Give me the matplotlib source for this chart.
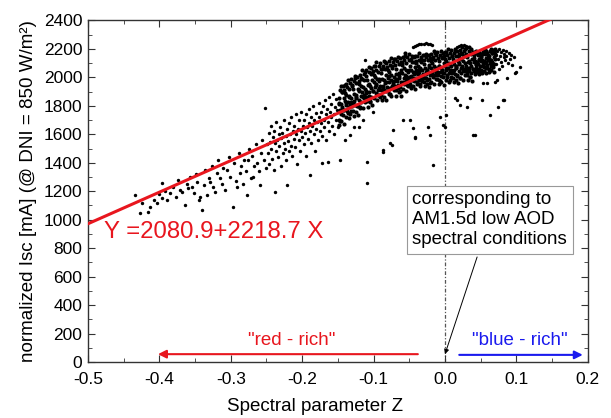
import matplotlib
matplotlib.use("Agg")
import matplotlib.pyplot as plt
from matplotlib.ticker import MultipleLocator, FormatStrFormatter

plt.rcParams["font.family"] = ["Liberation Sans", "DejaVu Sans"]

# sparse lower-left tail of the cloud (x, y)
tail_pts = [
    (-0.434, 1174), (-0.427, 1048), (-0.424, 1120), (-0.416, 1052), (-0.413, 1090),
    (-0.408, 1140), (-0.403, 1118), (-0.400, 1180), (-0.396, 1153), (-0.396, 1259),
    (-0.392, 1205), (-0.389, 1139), (-0.385, 1188), (-0.381, 1230), (-0.377, 1160),
    (-0.374, 1280), (-0.371, 1209), (-0.368, 1195), (-0.364, 1104), (-0.362, 1250),
    (-0.360, 1225), (-0.357, 1301), (-0.354, 1231), (-0.352, 1188), (-0.349, 1320),
    (-0.347, 1266), (-0.345, 1139), (-0.343, 1160), (-0.340, 1069), (-0.338, 1245),
    (-0.336, 1350), (-0.333, 1174), (-0.331, 1290), (-0.329, 1266), (-0.327, 1380),
    (-0.325, 1231), (-0.322, 1195), (-0.320, 1330), (-0.318, 1420), (-0.315, 1294),
    (-0.313, 1250), (-0.311, 1360), (-0.308, 1210), (-0.305, 1350), (-0.303, 1440),
    (-0.301, 1300), (-0.297, 1090), (-0.295, 1395), (-0.293, 1270), (-0.291, 1231),
    (-0.289, 1470), (-0.287, 1329), (-0.285, 1380), (-0.283, 1250), (-0.281, 1420),
    (-0.279, 1340), (-0.277, 1174), (-0.276, 1420), (-0.274, 1500), (-0.272, 1290),
    (-0.270, 1450), (-0.269, 1301), (-0.267, 1380), (-0.265, 1530), (-0.263, 1399),
    (-0.261, 1340), (-0.259, 1245), (-0.258, 1470), (-0.256, 1560), (-0.254, 1420),
    (-0.252, 1786), (-0.251, 1360),
]

# middle part of the cloud (x, y)
mid_pts = [
    (-0.249, 1529), (-0.248, 1470), (-0.247, 1610), (-0.246, 1390), (-0.245, 1545),
    (-0.244, 1660), (-0.243, 1500), (-0.242, 1430), (-0.241, 1580), (-0.240, 1620),
    (-0.239, 1350), (-0.238, 1195), (-0.238, 1540), (-0.237, 1480), (-0.236, 1690),
    (-0.235, 1560), (-0.234, 1440), (-0.233, 1600), (-0.232, 1520), (-0.231, 1650),
    (-0.230, 1380), (-0.229, 1575), (-0.228, 1610), (-0.227, 1470), (-0.226, 1540),
    (-0.225, 1700), (-0.224, 1500), (-0.223, 1420), (-0.222, 1590), (-0.221, 1245),
    (-0.221, 1640), (-0.220, 1555), (-0.219, 1480), (-0.218, 1680), (-0.217, 1600),
    (-0.216, 1520), (-0.215, 1720), (-0.214, 1450), (-0.213, 1620), (-0.212, 1570),
    (-0.211, 1660), (-0.210, 1510), (-0.209, 1740), (-0.208, 1600), (-0.207, 1390),
    (-0.206, 1640), (-0.205, 1560), (-0.204, 1700), (-0.203, 1480), (-0.202, 1620),
    (-0.201, 1760), (-0.200, 1580), (-0.199, 1660), (-0.198, 1530), (-0.197, 1700),
    (-0.196, 1610), (-0.195, 1450), (-0.194, 1740), (-0.193, 1650), (-0.192, 1570),
    (-0.191, 1780), (-0.190, 1680), (-0.189, 1315), (-0.189, 1620), (-0.188, 1720),
    (-0.187, 1540), (-0.186, 1660), (-0.185, 1800), (-0.184, 1600), (-0.183, 1700),
    (-0.182, 1480), (-0.181, 1750), (-0.180, 1640), (-0.179, 1690), (-0.178, 1560),
    (-0.177, 1820), (-0.176, 1720), (-0.175, 1620), (-0.174, 1760), (-0.173, 1680),
    (-0.172, 1399), (-0.172, 1590), (-0.171, 1800), (-0.170, 1700), (-0.169, 1650),
    (-0.168, 1840), (-0.167, 1740), (-0.166, 1560), (-0.165, 1780), (-0.164, 1406),
    (-0.164, 1690), (-0.163, 1860), (-0.162, 1620), (-0.161, 1760), (-0.160, 1720),
    (-0.159, 1810), (-0.158, 1660), (-0.157, 1880), (-0.156, 1740), (-0.155, 1600),
    (-0.154, 1790), (-0.153, 1700), (-0.152, 1850), (-0.151, 1770), (-0.150, 1650),
]

# dense core: two readings per x column (x, y1, y2)
core_cols = [
    (-0.149, 1853, 1703), (-0.148, 1816, 1666), (-0.147, 1909, 1769), (-0.146, 1943, 1743),
    (-0.145, 1811, 1696), (-0.144, 1894, 1794), (-0.143, 1937, 1737), (-0.142, 1855, 1675),
    (-0.141, 1914, 1774), (-0.140, 1837, 1892), (-0.139, 1725, 1955), (-0.138, 1808, 1878),
    (-0.137, 1766, 1931), (-0.136, 1985, 1830), (-0.135, 1718, 1868), (-0.134, 1916, 1791),
    (-0.133, 1809, 1959), (-0.132, 1857, 1762), (-0.131, 1986, 1826), (-0.130, 1799, 1944),
    (-0.129, 1917, 1767), (-0.128, 1880, 1730), (-0.127, 1973, 1833), (-0.126, 2007, 1807),
    (-0.125, 1875, 1760), (-0.124, 1958, 1858), (-0.123, 2001, 1801), (-0.122, 1919, 1739),
    (-0.121, 1978, 1838), (-0.120, 1901, 1956), (-0.119, 1789, 2019), (-0.118, 1872, 1942),
    (-0.117, 1830, 1995), (-0.116, 2049, 1894), (-0.115, 1782, 1932), (-0.114, 1980, 1855),
    (-0.113, 1873, 2023), (-0.112, 1921, 1826), (-0.111, 2050, 1890), (-0.110, 1863, 2008),
    (-0.109, 1981, 1831), (-0.108, 1944, 1794), (-0.107, 2037, 1897), (-0.106, 2071, 1871),
    (-0.105, 1939, 1824), (-0.104, 2022, 1922), (-0.103, 2065, 1865), (-0.102, 1983, 1803),
    (-0.101, 2042, 1902), (-0.100, 1965, 2020), (-0.099, 1852, 2082), (-0.098, 1934, 2004),
    (-0.097, 1890, 2055), (-0.096, 2107, 1952), (-0.095, 1838, 1988), (-0.094, 2035, 1910),
    (-0.093, 1927, 2077), (-0.092, 1973, 1878), (-0.091, 2100, 1940), (-0.090, 1911, 2056),
    (-0.089, 2028, 1878), (-0.088, 1990, 1840), (-0.087, 2081, 1941), (-0.086, 2113, 1913),
    (-0.085, 1979, 1864), (-0.084, 2061, 1961), (-0.083, 2103, 1903), (-0.082, 2019, 1839),
    (-0.081, 2076, 1936), (-0.080, 1997, 2052), (-0.079, 1884, 2114), (-0.078, 1966, 2036),
    (-0.077, 1922, 2087), (-0.076, 2139, 1984), (-0.075, 1870, 2020), (-0.074, 2067, 1942),
    (-0.073, 1959, 2109), (-0.072, 2005, 1910), (-0.071, 2132, 1972), (-0.070, 1943, 2088),
    (-0.069, 2060, 1910), (-0.068, 2022, 1872), (-0.067, 2113, 1973), (-0.066, 2145, 1945),
    (-0.065, 2011, 1896), (-0.064, 2093, 1993), (-0.063, 2135, 1935), (-0.062, 2051, 1871),
    (-0.061, 2108, 1968), (-0.060, 2029, 2084), (-0.059, 1916, 2146), (-0.058, 1998, 2068),
    (-0.057, 1954, 2119), (-0.056, 2171, 2016), (-0.055, 1902, 2052), (-0.054, 2099, 1974),
    (-0.053, 1991, 2141), (-0.052, 2037, 1942), (-0.051, 2164, 2004), (-0.050, 1975, 2120),
    (-0.049, 2082, 1954), (-0.048, 2049, 1922), (-0.047, 2127, 2007), (-0.046, 2152, 1982),
    (-0.045, 2038, 1940), (-0.044, 2107, 2022), (-0.043, 2142, 1972), (-0.042, 2070, 1917),
    (-0.041, 2118, 1999), (-0.040, 2051, 2098), (-0.039, 1954, 2149), (-0.038, 2022, 2082),
    (-0.037, 1985, 2125), (-0.036, 2169, 2037), (-0.035, 1940, 2068), (-0.034, 2106, 1999),
    (-0.033, 2013, 2141), (-0.032, 2053, 1972), (-0.031, 2160, 2024), (-0.030, 1998, 2122),
    (-0.029, 2097, 1969), (-0.028, 2064, 1937), (-0.027, 2142, 2022), (-0.026, 2167, 1997),
    (-0.025, 2053, 1955), (-0.024, 2122, 2037), (-0.023, 2157, 1987), (-0.022, 2086, 1933),
    (-0.021, 2133, 2014), (-0.020, 2066, 2113), (-0.019, 1969, 2164), (-0.018, 2038, 2098),
    (-0.017, 2000, 2140), (-0.016, 2184, 2052), (-0.015, 1955, 2083), (-0.014, 2122, 2015),
    (-0.013, 2028, 2156), (-0.012, 2068, 1987), (-0.011, 2175, 2039), (-0.010, 2014, 2138),
    (-0.009, 2112, 1984), (-0.008, 2079, 1952), (-0.007, 2157, 2037), (-0.006, 2183, 2013),
    (-0.005, 2068, 1970), (-0.004, 2137, 2052), (-0.003, 2172, 2002), (-0.002, 2101, 1948),
    (-0.001, 2148, 2029), (0.000, 2081, 2128), (0.001, 1984, 2179), (0.002, 2052, 2112),
    (0.003, 2015, 2155), (0.004, 2199, 2067), (0.005, 1970, 2098), (0.006, 2137, 2030),
    (0.007, 2043, 2171), (0.008, 2083, 2002), (0.009, 2190, 2054), (0.010, 2028, 2152),
    (0.011, 2127, 1999), (0.012, 2094, 1967), (0.013, 2172, 2052), (0.014, 2197, 2027),
    (0.015, 2083, 1985), (0.016, 2152, 2067), (0.017, 2187, 2017), (0.018, 2115, 1962),
    (0.019, 2163, 2044), (0.020, 2096, 2143), (0.021, 1999, 2194), (0.022, 2067, 2127),
    (0.023, 2030, 2170), (0.024, 2214, 2082), (0.025, 1985, 2113), (0.026, 2151, 2044),
    (0.027, 2058, 2186), (0.028, 2098, 2017), (0.029, 2205, 2069), (0.030, 2043, 2167),
    (0.031, 2142, 2014), (0.032, 2109, 1982), (0.033, 2187, 2067), (0.034, 2212, 2042),
    (0.035, 2098, 2000), (0.036, 2167, 2082), (0.037, 2202, 2032), (0.038, 2130, 1977),
    (0.039, 2178, 2059), (0.040, 2111, 2158), (0.041, 2136, 2046), (0.042, 2113, 2023),
    (0.043, 2168, 2084), (0.044, 2186, 2066), (0.045, 2106, 2037), (0.046, 2155, 2095),
    (0.047, 2180, 2060), (0.048, 2130, 2022), (0.049, 2163, 2079), (0.050, 2116, 2149),
    (0.051, 2144, 2054), (0.052, 2121, 2031), (0.053, 2176, 2092), (0.054, 2194, 2074),
    (0.055, 2114, 2045), (0.056, 2163, 2103), (0.057, 2188, 2068), (0.058, 2138, 2030),
    (0.059, 2171, 2087), (0.060, 2124, 2157), (0.061, 2152, 2062), (0.062, 2129, 2039),
    (0.063, 2184, 2100), (0.064, 2202, 2082), (0.065, 2122, 2053), (0.066, 2171, 2111),
    (0.067, 2196, 2076), (0.068, 2146, 2038), (0.069, 2179, 2095), (0.070, 2132, 2165),
]

# extra core readings taken between the columns above (x, y)
core_extra = [
    (-0.1485, 1820), (-0.1465, 1696), (-0.1445, 1898), (-0.1425, 1769), (-0.1405, 1950),
    (-0.1385, 1817), (-0.1365, 1753), (-0.1345, 1865), (-0.1325, 1741), (-0.1305, 1942),
    (-0.1285, 1814), (-0.1265, 1995), (-0.1245, 1862), (-0.1225, 1798), (-0.1205, 1909),
    (-0.1185, 1786), (-0.1165, 1987), (-0.1145, 1859), (-0.1125, 2040), (-0.1105, 1906),
    (-0.1085, 1843), (-0.1065, 1954), (-0.1045, 1831), (-0.1025, 2032), (-0.1005, 1903),
    (-0.0985, 2082), (-0.0965, 1946), (-0.0945, 1879), (-0.0925, 1987), (-0.0905, 1860),
    (-0.0885, 2058), (-0.0865, 1927), (-0.0845, 2105), (-0.0825, 1968), (-0.0805, 1901),
    (-0.0785, 2009), (-0.0765, 1883), (-0.0745, 2081), (-0.0725, 1949), (-0.0705, 2127),
    (-0.0685, 1990), (-0.0665, 1924), (-0.0645, 2032), (-0.0625, 1905), (-0.0605, 2103),
    (-0.0585, 1971), (-0.0565, 2150), (-0.0545, 2013), (-0.0525, 1946), (-0.0505, 2054),
    (-0.0485, 1943), (-0.0465, 2110), (-0.0445, 1997), (-0.0425, 2147), (-0.0405, 2029),
    (-0.0385, 1971), (-0.0365, 2062), (-0.0345, 1953), (-0.0325, 2121), (-0.0305, 2007),
    (-0.0285, 2158), (-0.0265, 2039), (-0.0245, 1982), (-0.0225, 2072), (-0.0205, 1964),
    (-0.0185, 2131), (-0.0165, 2018), (-0.0145, 2168), (-0.0125, 2050), (-0.0105, 1992),
    (-0.0085, 2083), (-0.0065, 1974), (-0.0045, 2142), (-0.0025, 2028), (-0.0005, 2179),
    (0.0015, 2060), (0.0035, 2003), (0.0055, 2093), (0.0075, 1984), (0.0095, 2152),
    (0.0115, 2038), (0.0135, 2189), (0.0155, 2070), (0.0175, 2013), (0.0195, 2103),
    (0.0215, 1995), (0.0235, 2162), (0.0255, 2049), (0.0275, 2199), (0.0295, 2081),
    (0.0315, 2023), (0.0335, 2113), (0.0355, 2005), (0.0375, 2172), (0.0395, 2059),
    (0.0415, 2178), (0.0435, 2097), (0.0455, 2056), (0.0475, 2120), (0.0495, 2044),
    (0.0515, 2162), (0.0535, 2083), (0.0555, 2190), (0.0575, 2108), (0.0595, 2067),
    (0.0615, 2131), (0.0635, 2055), (0.0655, 2174), (0.0675, 2094), (0.0695, 2201),
]

# right end of the cloud and the two short upper streaks (x, y)
edge_pts = [
    (0.071, 2160), (0.072, 2095), (0.073, 2185), (0.074, 2130), (0.075, 2060),
    (0.076, 2200), (0.077, 2150), (0.078, 2110), (0.079, 2175), (0.080, 2080),
    (0.081, 2195), (0.082, 2140), (0.083, 2165), (0.084, 2120), (0.085, 2185),
    (0.086, 2150), (0.088, 2100), (0.089, 2170), (0.091, 2130), (0.093, 2160),
    (0.096, 2140),
    (-0.045, 2212), (-0.042, 2220), (-0.039, 2228), (-0.036, 2232), (-0.033, 2236),
    (-0.030, 2238), (-0.027, 2240), (-0.024, 2237), (-0.021, 2233), (-0.018, 2228),
    (0.017, 2214), (0.020, 2222), (0.023, 2226), (0.026, 2228), (0.029, 2223),
]

# isolated points away from the main band (x, y)
outlier_pts = [
    (-0.147, 1420), (-0.133, 1596), (-0.140, 1560), (-0.128, 1650), (-0.120, 1650),
    (-0.115, 1700), (-0.112, 2124), (-0.109, 1406), (-0.109, 1259), (-0.101, 1758),
    (-0.087, 1491), (-0.087, 1477), (-0.077, 1540), (-0.074, 1526), (-0.073, 1631),
    (-0.059, 1702), (-0.049, 1702), (-0.045, 1646), (-0.042, 1582), (-0.042, 1575),
    (-0.024, 1653), (-0.021, 1596), (-0.017, 1385), (-0.007, 1723), (-0.003, 1667),
    (0.000, 1653), (0.002, 1737), (0.014, 1856), (0.017, 1842), (0.021, 1807),
    (0.031, 1793), (0.035, 1856), (0.039, 1596), (0.042, 1596), (0.052, 1842),
    (0.053, 1962), (0.059, 1962), (0.063, 1737), (0.070, 1969), (0.073, 1983),
    (0.074, 1793), (0.081, 1842), (0.083, 1842), (0.087, 1997), (0.094, 2088),
    (0.098, 2032), (0.100, 2039), (0.105, 2074),
]

fit_a, fit_b = 2080.9, 2218.7
fit_x = [-0.5, 0.2]

sparse = tail_pts + mid_pts + edge_pts + outlier_pts
dense_x = [p[0] for p in core_extra]
dense_y = [p[1] for p in core_extra]
for x, y1, y2 in core_cols:
    dense_x += [x, x]
    dense_y += [y1, y2]

red = "#e8161e"
blue = "#1a1aee"

fig = plt.figure(figsize=(6.11, 4.18), dpi=100)
ax = fig.add_axes([0.144, 0.134, 0.818, 0.817])

ax.scatter([p[0] for p in sparse], [p[1] for p in sparse], s=6, c="k",
           linewidths=0, zorder=2)
ax.scatter(dense_x, dense_y, s=9, c="k", linewidths=0, zorder=2)
ax.plot(fit_x, [fit_a + fit_b * x for x in fit_x], color=red, lw=2.2, zorder=3)
ax.axvline(0, color="#555555", lw=0.9, ls=(0, (3, 1.5, 1, 1.5)), zorder=1)

ax.text(-0.477, 914, "Y =2080.9+2218.7 X", color=red, fontsize=17.3,
        ha="left", va="center")

ax.annotate("", xy=(-0.402, 55), xytext=(-0.038, 55),
            arrowprops=dict(arrowstyle="-|>", color=red, lw=1.5,
                            mutation_scale=12, shrinkA=0, shrinkB=0))
ax.text(-0.214, 150, '"red - rich"', color=red, fontsize=13.5,
        ha="center", va="center")
ax.annotate("", xy=(0.193, 50), xytext=(0.02, 50),
            arrowprops=dict(arrowstyle="-|>", color=blue, lw=1.5,
                            mutation_scale=12, shrinkA=0, shrinkB=0))
ax.text(0.105, 150, '"blue - rich"', color=blue, fontsize=13.5,
        ha="center", va="center")

ax.annotate("", xy=(0.0, 55), xytext=(0.045, 738),
            arrowprops=dict(arrowstyle="-|>", color="k", lw=0.7,
                            mutation_scale=7, shrinkA=0, shrinkB=0))
ax.text(-0.046, 1000, "corresponding to\nAM1.5d low AOD\nspectral conditions",
        fontsize=13.5, ha="left", va="center", linespacing=1.22,
        bbox=dict(boxstyle="square,pad=0.3", fc="white", ec="#999999", lw=0.8))

ax.set_xlim(-0.5, 0.2)
ax.set_ylim(0, 2400)
ax.xaxis.set_major_locator(MultipleLocator(0.1))
ax.xaxis.set_minor_locator(MultipleLocator(0.05))
ax.xaxis.set_major_formatter(FormatStrFormatter("%.1f"))
ax.yaxis.set_major_locator(MultipleLocator(200))
ax.yaxis.set_minor_locator(MultipleLocator(100))
ax.tick_params(which="both", direction="in", top=True, right=True,
               labelsize=12.5, color="#333333")
ax.tick_params(which="major", length=5)
ax.tick_params(which="minor", length=3)
ax.tick_params(axis="x", pad=7)
ax.tick_params(axis="y", pad=4)
for sp in ax.spines.values():
    sp.set_color("#333333")
    sp.set_linewidth(1.0)

ax.set_xlabel("Spectral parameter Z", fontsize=13.5)
ax.xaxis.set_label_coords(0.454, -0.105)
ax.set_ylabel("normalized Isc [mA] (@ DNI = 850 W/m²)", fontsize=13.5, labelpad=5)

fig.savefig("out.png", dpi=100)
